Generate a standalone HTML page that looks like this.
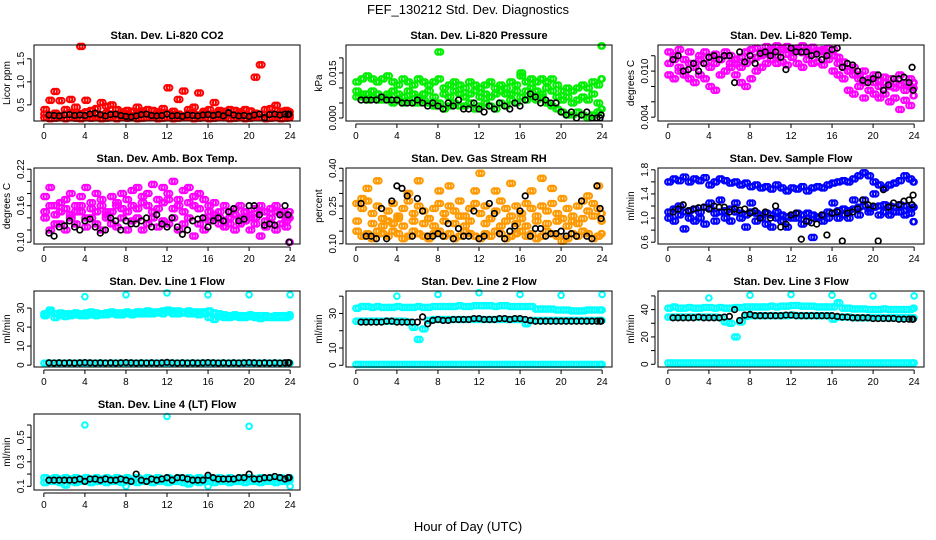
<!DOCTYPE html>
<html><head><meta charset="utf-8">
<style>
html,body{margin:0;padding:0;background:#fff;}
svg{display:block;font-family:"Liberation Sans",Arial,sans-serif;}
</style></head>
<body>
<svg id="chart" width="936" height="540" viewBox="0 0 936 540">
<text x="468" y="14" text-anchor="middle" font-size="13">FEF_130212  Std. Dev. Diagnostics</text>
<text x="468" y="531" text-anchor="middle" font-size="13">Hour of Day (UTC)</text>
</svg>
<script>
const H=[0,0.5,1,1.5,2,2.5,3,3.5,4,4.5,5,5.5,6,6.5,7,7.5,8,8.5,9,9.5,10,10.5,11,11.5,12,12.5,13,13.5,14,14.5,15,15.5,16,16.5,17,17.5,18,18.5,19,19.5,20,20.5,21,21.5,22,22.5,23,23.5,24];
const HQ=[0.25,0.75,1.25,1.75,2.25,2.75,3.25,3.75,4.25,4.75,5.25,5.75,6.25,6.75,7.25,7.75,8.25,8.75,9.25,9.75,10.25,10.75,11.25,11.75,12.25,12.75,13.25,13.75,14.25,14.75,15.25,15.75,16.25,16.75,17.25,17.75,18.25,18.75,19.25,19.75,20.25,20.75,21.25,21.75,22.25,22.75,23.25,23.75,23.9];
const HB=[0.5,1,1.5,2,2.5,3,3.5,4,4.5,5,5.5,6,6.5,7,7.5,8,8.5,9,9.5,10,10.5,11,11.5,12,12.5,13,13.5,14,14.5,15,15.5,16,16.5,17,17.5,18,18.5,19,19.5,20,20.5,21,21.5,22,22.5,23,23.5,23.8,23.9];
const HO=[4,8,12,16,20,24];
const xTicks=[0,4,8,12,16,20,24];

const p1a=[0.3,0.28,0.32,0.27,0.3,0.33,0.29,0.31,0.35,0.28,0.3,0.27,0.32,0.3,0.28,0.29,0.31,0.27,0.3,0.32,0.29,0.28,0.3,0.33,0.31,0.29,0.3,0.27,0.32,0.3,0.28,0.31,0.29,0.3,0.33,0.3,0.28,0.29,0.31,0.3,0.27,0.32,0.3,0.29,0.31,0.28,0.3,0.29,0.28];
const p1b=[0.22,0.2,0.21,0.23,0.2,0.22,0.21,0.2,0.23,0.21,0.22,0.2,0.21,0.22,0.2,0.23,0.21,0.22,0.2,0.21,0.22,0.23,0.2,0.21,0.22,0.2,0.21,0.22,0.23,0.2,0.21,0.22,0.2,0.21,0.23,0.22,0.2,0.21,0.22,0.2,0.21,0.23,0.22,0.2,0.21,0.22,0.2,0.21,0.22];
const p1c=[0.4,0.6,0.79,0.59,0.4,0.62,0.45,1.77,0.6,0.38,0.42,0.55,0.47,0.5,0.4,0.35,0.38,0.36,0.45,0.37,0.4,0.38,0.35,0.42,0.87,0.36,0.62,0.8,0.4,0.45,0.76,0.36,0.4,0.55,0.38,0.36,0.4,0.38,0.35,0.4,0.37,1.1,1.37,0.4,0.42,0.49,0.36,0.38,0.35];
const p1k=[0.28,0.27,0.26,0.28,0.29,0.27,0.28,0.27,0.3,0.32,0.29,0.26,0.29,0.3,0.27,0.25,0.24,0.26,0.29,0.3,0.27,0.26,0.27,0.3,0.26,0.27,0.25,0.28,0.27,0.26,0.28,0.29,0.27,0.29,0.26,0.33,0.28,0.26,0.27,0.25,0.28,0.3,0.22,0.29,0.3,0.28,0.3,0.29,0.3];

const p2a=[0.012,0.013,0.014,0.013,0.012,0.013,0.014,0.012,0.011,0.013,0.012,0.011,0.013,0.012,0.011,0.012,0.013,0.010,0.011,0.012,0.011,0.010,0.012,0.011,0.010,0.011,0.012,0.010,0.011,0.010,0.012,0.011,0.014,0.012,0.013,0.012,0.013,0.012,0.013,0.011,0.009,0.010,0.009,0.010,0.011,0.010,0.012,0.011,0.013];
const p2b=[0.007,0.007,0.006,0.007,0.006,0.006,0.007,0.005,0.006,0.005,0.006,0.005,0.005,0.006,0.005,0.004,0.005,0.003,0.004,0.005,0.004,0.004,0.005,0.003,0.004,0.005,0.004,0.003,0.005,0.004,0.006,0.005,0.007,0.006,0.007,0.006,0.007,0.005,0.004,0.003,0.002,0.001,0.001,0.002,0.001,0.000,0.001,0.002,0.003];
const p2c=[0.009,0.008,0.008,0.009,0.008,0.007,0.008,0.009,0.008,0.007,0.009,0.008,0.007,0.008,0.009,0.007,0.022,0.008,0.007,0.009,0.008,0.007,0.008,0.009,0.007,0.008,0.007,0.008,0.009,0.008,0.008,0.009,0.015,0.009,0.010,0.009,0.008,0.010,0.009,0.007,0.006,0.007,0.005,0.006,0.007,0.006,0.008,0.005,0.024];
const p2k=[0.006,0.006,0.006,0.006,0.007,0.006,0.006,0.006,0.005,0.005,0.005,0.006,0.005,0.004,0.005,0.004,0.003,0.005,0.004,0.006,0.003,0.003,0.005,0.003,0.002,0.004,0.003,0.005,0.004,0.003,0.005,0.004,0.006,0.008,0.007,0.005,0.006,0.005,0.005,0.002,0.001,0.002,0.000,0.001,0.002,0.000,0.000,0.000,0.001];

const p3a=[0.0110,0.0115,0.0105,0.0100,0.0110,0.0105,0.0115,0.0110,0.0105,0.0110,0.0115,0.0120,0.0110,0.0115,0.0105,0.0110,0.0115,0.0118,0.0120,0.0122,0.0125,0.0120,0.0128,0.0122,0.0125,0.0128,0.0124,0.0126,0.0122,0.0125,0.0128,0.0122,0.0120,0.0110,0.0105,0.0100,0.0095,0.0090,0.0085,0.0090,0.0085,0.0080,0.0085,0.0080,0.0078,0.0082,0.0075,0.0080,0.0078];
const p3b=[0.0095,0.0090,0.0100,0.0095,0.0090,0.0085,0.0095,0.0090,0.0080,0.0075,0.0095,0.0100,0.0105,0.0095,0.0085,0.0080,0.0090,0.0100,0.0105,0.0110,0.0115,0.0110,0.0112,0.0108,0.0118,0.0110,0.0105,0.0115,0.0110,0.0112,0.0108,0.0115,0.0100,0.0095,0.0090,0.0075,0.0070,0.0080,0.0065,0.0075,0.0070,0.0065,0.0070,0.0060,0.0065,0.0050,0.0062,0.0055,0.0068];
const p3c=[0.0125,0.0120,0.0128,0.0115,0.0125,0.0110,0.0120,0.0125,0.0118,0.0122,0.0115,0.0125,0.0120,0.0110,0.0118,0.0125,0.0128,0.0130,0.0125,0.0132,0.0128,0.0133,0.0130,0.0132,0.0128,0.0130,0.0133,0.0129,0.0131,0.0127,0.0125,0.0130,0.0128,0.0118,0.0112,0.0100,0.0105,0.0095,0.0100,0.0090,0.0095,0.0088,0.0092,0.0090,0.0085,0.0095,0.0085,0.0090,0.0085];
const p3k=[0.0115,0.0120,0.0100,0.0102,0.0110,0.0100,0.0110,0.0118,0.0120,0.0115,0.0120,0.0120,0.0085,0.0125,0.0112,0.0120,0.0110,0.0123,0.0125,0.0120,0.0125,0.0118,0.0102,0.0130,0.0125,0.0125,0.0125,0.0120,0.0122,0.0115,0.0120,0.0128,0.0130,0.0105,0.0110,0.0108,0.0100,0.0088,0.0085,0.0090,0.0095,0.0075,0.0082,0.0090,0.0090,0.0092,0.0085,0.0105,0.0075];

const p4a=[0.175,0.19,0.16,0.15,0.17,0.18,0.16,0.175,0.19,0.165,0.18,0.17,0.15,0.175,0.16,0.18,0.17,0.185,0.19,0.175,0.18,0.195,0.17,0.19,0.18,0.2,0.17,0.185,0.19,0.175,0.18,0.17,0.16,0.165,0.15,0.16,0.14,0.155,0.16,0.15,0.14,0.155,0.16,0.15,0.155,0.16,0.15,0.14,0.15];
const p4b=[0.14,0.12,0.145,0.13,0.12,0.14,0.13,0.15,0.125,0.14,0.13,0.12,0.14,0.13,0.125,0.14,0.12,0.135,0.14,0.12,0.13,0.14,0.125,0.135,0.13,0.14,0.12,0.13,0.14,0.11,0.13,0.12,0.135,0.14,0.13,0.125,0.13,0.12,0.13,0.135,0.12,0.13,0.11,0.125,0.13,0.12,0.13,0.125,0.10];
const p4c=[0.15,0.16,0.13,0.165,0.155,0.145,0.15,0.16,0.14,0.155,0.15,0.16,0.145,0.15,0.165,0.155,0.15,0.16,0.155,0.165,0.16,0.15,0.155,0.165,0.17,0.155,0.16,0.15,0.165,0.16,0.155,0.14,0.15,0.145,0.14,0.135,0.15,0.145,0.14,0.15,0.145,0.14,0.15,0.135,0.14,0.15,0.145,0.135,0.14];
const p4k=[0.115,0.11,0.125,0.127,0.135,0.125,0.12,0.135,0.138,0.125,0.115,0.12,0.14,0.135,0.12,0.135,0.13,0.13,0.135,0.14,0.125,0.145,0.13,0.125,0.14,0.125,0.113,0.12,0.135,0.138,0.14,0.125,0.135,0.14,0.135,0.15,0.155,0.135,0.138,0.16,0.16,0.145,0.128,0.13,0.128,0.145,0.16,0.145,0.10];

const p5a=[0.15,0.13,0.14,0.12,0.15,0.14,0.13,0.15,0.14,0.12,0.13,0.15,0.14,0.13,0.12,0.14,0.15,0.13,0.14,0.12,0.13,0.15,0.14,0.13,0.12,0.14,0.13,0.15,0.14,0.12,0.13,0.14,0.15,0.13,0.14,0.12,0.13,0.15,0.14,0.13,0.11,0.12,0.14,0.13,0.15,0.14,0.12,0.13,0.14];
const p5b=[0.26,0.24,0.27,0.22,0.25,0.2,0.23,0.26,0.21,0.24,0.27,0.22,0.25,0.23,0.2,0.24,0.26,0.22,0.25,0.23,0.27,0.21,0.24,0.26,0.22,0.25,0.2,0.23,0.27,0.24,0.21,0.25,0.22,0.26,0.24,0.21,0.25,0.23,0.26,0.22,0.2,0.24,0.21,0.25,0.27,0.23,0.26,0.24,0.22];
const p5c=[0.19,0.28,0.32,0.18,0.35,0.17,0.19,0.18,0.2,0.17,0.3,0.19,0.35,0.18,0.2,0.17,0.31,0.19,0.33,0.18,0.21,0.17,0.19,0.31,0.38,0.18,0.2,0.31,0.17,0.19,0.34,0.18,0.2,0.17,0.31,0.19,0.36,0.18,0.32,0.19,0.28,0.17,0.19,0.18,0.2,0.29,0.21,0.33,0.19];
const p5k=[0.26,0.13,0.13,0.12,0.24,0.12,0.27,0.33,0.32,0.29,0.13,0.28,0.23,0.13,0.13,0.14,0.13,0.18,0.12,0.16,0.13,0.13,0.23,0.12,0.13,0.26,0.22,0.14,0.12,0.15,0.17,0.23,0.29,0.13,0.16,0.16,0.13,0.14,0.14,0.15,0.13,0.14,0.13,0.27,0.13,0.12,0.33,0.24,0.2];

const p6a=[1.6,1.65,1.62,1.68,1.6,1.65,1.62,1.67,1.55,1.6,1.65,1.62,1.58,1.6,1.55,1.58,1.52,1.55,1.5,1.52,1.48,1.55,1.5,1.45,1.5,1.48,1.52,1.45,1.5,1.52,1.5,1.55,1.58,1.6,1.62,1.6,1.65,1.7,1.75,1.7,1.6,1.55,1.5,1.55,1.58,1.62,1.7,1.65,1.6];
const p6b=[1.1,1.15,1.2,1.1,1.12,1.15,1.1,1.18,1.15,1.08,1.1,1.12,1.15,1.1,1.08,1.05,1.1,1.08,1.05,1.08,1.05,1.1,1.05,1.02,1.05,1.08,1.05,1.08,1.05,1.02,1.05,1.1,1.08,1.12,1.15,1.12,1.15,1.18,1.2,1.15,1.18,1.2,1.22,1.2,1.18,1.22,1.2,1.15,1.18];
const p6c=[1.0,0.95,1.05,0.82,1.0,0.95,1.0,0.9,1.25,0.95,1.3,1.0,0.95,1.25,1.0,0.85,1.25,0.95,1.0,0.9,0.85,1.0,0.95,0.85,1.0,1.0,0.9,0.95,0.68,1.0,0.95,1.0,1.25,1.0,1.05,1.0,1.3,1.05,1.3,1.1,1.4,1.05,1.1,1.05,1.1,1.1,1.05,1.08,0.94];
const p6k=[1.1,1.15,1.22,1.12,1.15,1.17,1.18,1.15,1.2,1.18,1.18,1.1,1.15,1.13,1.15,1.08,1.12,1.0,1.1,1.0,1.2,0.85,0.9,1.05,1.08,0.65,0.95,0.92,0.9,1.05,0.72,1.08,1.1,0.62,1.08,1.1,1.15,1.3,1.22,1.2,0.62,1.47,1.18,1.25,1.22,1.28,1.3,1.22,1.38];

const p7a=[27,28,27,27.5,27,27,27.5,27,27.5,28,27.5,27,27.5,28,27.5,27.5,28,27.5,28,28,28.5,28,28,28.5,29,28.5,28.5,28,28.5,28,28,28,28.5,27.5,27,26.5,26,26.5,26,26,26.5,26,26,26,25.5,26,26,26,26.5];
const p7b=[26,29,25,26,25.5,26,26.5,26,26,26.5,26,26.5,26.5,27,26.5,26.5,27,26.5,27,27,27,27,27.5,27,28,27,27,27.5,27,27,26.5,27,25,24,25.5,25,25,25.5,25,25,25.5,25,24.5,25,25,25,25,25,25.5];
const p7low=[1,1,1,1,1,1,1,1,1,1,1,1,1,1,1,1,1,1,1,1,1,1,1,1,1,1,1,1,1,1,1,1,1,1,1,1,1,1,1,1,1,1,1,1,1,1,1,1,1];
const p7out=[36,37,38,37,37,37];
const p7k=[1.2,1.1,1.2,1.1,1.2,1.1,1.2,1.3,1.2,1.1,1.2,1.1,1.2,1.1,1.2,1.3,1.2,1.1,1.2,1.1,1.2,1.1,1.2,1.4,1.2,1.1,1.2,1.1,1.2,1.1,1.2,1.3,1.2,1.1,1.2,1.1,1.2,1.1,1.2,1.3,1.2,1.1,1.2,1.1,1.2,1.1,1.2,1.3,1.2];

const p8a=[33,34,34,33.5,34,33.5,33.5,33.5,34,33.5,33.5,33.5,34,33.5,33.5,34,34,34,34,34,34.5,34,34,34.5,34.5,34.5,34.5,34,34.5,34.5,34,34,34,34,34,32.5,32.5,32.5,32.5,32,32,32,31.5,31.5,31.5,32,32,32,32];
const p8b=[25.5,25.5,25.5,25.5,25.5,25.5,25.5,25.5,25.5,25.5,25,22,15,21,26,26.5,26.5,26.5,26.5,26.5,26.5,26.5,26.5,26.5,26.5,26.5,26.5,26.5,26.5,26.5,26.5,26.5,26.5,24,26,26,26,26,26,26,26,26,26,26,26,26,26,26,26];
const p8low=[0.5,0.5,0.5,0.5,0.5,0.5,0.5,0.5,0.5,0.5,0.5,0.5,0.5,0.5,0.5,0.5,0.5,0.5,0.5,0.5,0.5,0.5,0.5,0.5,0.5,0.5,0.5,0.5,0.5,0.5,0.5,0.5,0.5,0.5,0.5,0.5,0.5,0.5,0.5,0.5,0.5,0.5,0.5,0.5,0.5,0.5,0.5,0.5,0.5];
const p8out=[40,41,42,41,40.5,41];
const p8k=[25,25,25,25,25,25.5,25.5,25,25,25,25,25,28,24,26,26.5,26,26,26.5,26.5,26.5,26.5,27,27,26.5,26.5,26.5,27,27,26.5,27,27,26.5,26,25.5,25.5,25.5,25.5,25.5,25.5,25.5,25.5,25.5,25.5,25.5,25.5,25.5,25.5,25.5];

const p9a=[41,42,41,41,41.5,41,41,41.5,41.5,41,41.5,41,41,41.5,41.5,42,42,42,42,42,42.5,42,42.5,42.5,43,43,42.5,42.5,42.5,42,42,42,42,45,41,41,40.5,40.5,40.5,40,40,40,40.5,40,40,40,40,40,41];
const p9b=[34.5,34.5,34.5,34.5,34.5,34.5,34.5,34.5,34.5,34.5,34,31,30,20,31,35,35.5,35.5,35.5,35.5,35.5,35.5,35.5,35.5,36,35.5,35.5,35.5,35.5,35.5,35.5,35.5,33,34.5,34.5,34.5,34,34,34,34,34,34,34,34,34,34,34,34,34];
const p9low=[1,1,1,1,1,1,1,1,1,1,1,1,1,1,1,1,1,1,1,1,1,1,1,1,1,1,1,1,1,1,1,1,1,1,1,1,1,1,1,1,1,1,1,1,1,1,1,1,1];
const p9out=[48.5,50.5,51,50.5,50,50];
const p9k=[34,34,34,34,34,34.5,34,34,34,34,34.5,35,40,32,36,36.5,35.5,35.5,35.5,35.5,35.5,35.5,36,36,35.5,35.5,35.5,35.5,35.5,35.5,35.5,35.5,35,34.5,34.5,34,34,34,34,33.5,33.5,33.5,33.5,33.5,33,33,33,33,33];

const p10a=[0.17,0.16,0.17,0.16,0.17,0.16,0.17,0.16,0.17,0.16,0.17,0.16,0.17,0.16,0.17,0.16,0.17,0.16,0.17,0.16,0.17,0.16,0.17,0.16,0.17,0.16,0.17,0.16,0.17,0.16,0.17,0.16,0.17,0.16,0.17,0.16,0.17,0.16,0.17,0.16,0.17,0.16,0.17,0.16,0.17,0.16,0.17,0.16,0.17];
const p10b=[0.13,0.14,0.14,0.13,0.11,0.14,0.13,0.14,0.14,0.13,0.14,0.14,0.13,0.14,0.14,0.13,0.14,0.14,0.13,0.14,0.14,0.13,0.14,0.14,0.13,0.14,0.14,0.13,0.12,0.14,0.13,0.14,0.14,0.13,0.14,0.14,0.13,0.14,0.14,0.13,0.14,0.14,0.13,0.14,0.14,0.13,0.14,0.14,0.15];
const p10out=[0.6,0.1,0.67,0.1,0.59,0.1];
const p10k=[0.15,0.15,0.15,0.15,0.15,0.15,0.16,0.14,0.16,0.16,0.15,0.16,0.15,0.15,0.16,0.15,0.14,0.2,0.15,0.14,0.16,0.15,0.16,0.17,0.15,0.17,0.17,0.16,0.15,0.15,0.15,0.19,0.17,0.16,0.16,0.16,0.16,0.17,0.17,0.2,0.16,0.16,0.17,0.17,0.18,0.17,0.16,0.17,0.17];

const NS='http://www.w3.org/2000/svg';
const svg=document.getElementById('chart');
const colL=[34,346,658], rowT=[45,168,291,414], BW=266, BH=76;
function mk(tag,attrs,parent){const e=document.createElementNS(NS,tag);for(const k in attrs)e.setAttribute(k,attrs[k]);(parent||svg).appendChild(e);return e;}

const panels=[
 {t:'Stan. Dev. Li-820 CO2',yl:'Licor ppm',d:[0.15,1.8],ticks:[0.5,1,1.5],labs:['0.5','1.0','1.5'],s:[[H,p1b,'#ff0000'],[H,p1a,'#ff0000'],[H,p1c,'#ff0000'],[HB,p1k,'#000000']]},
 {t:'Stan. Dev. Li-820 Pressure',yl:'kPa',d:[-0.001,0.0243],ticks:[0,0.005,0.01,0.015,0.02],labs:['0.000','','','0.015',''],s:[[H,p2a,'#00ee00'],[H,p2b,'#00ee00'],[H,p2c,'#00ee00'],[HB,p2k,'#000000']]},
 {t:'Stan. Dev. Li-820 Temp.',yl:'degrees C',d:[0.0035,0.0134],ticks:[0.004,0.006,0.008,0.010,0.012],labs:['0.004','','','0.010',''],s:[[H,p3a,'#ff00ff'],[H,p3b,'#ff00ff'],[H,p3c,'#ff00ff'],[HB,p3k,'#000000']]},
 {t:'Stan. Dev. Amb. Box Temp.',yl:'degrees C',d:[0.097,0.222],ticks:[0.10,0.12,0.14,0.16,0.18,0.20,0.22],labs:['0.10','','','0.16','','','0.22'],s:[[H,p4a,'#ff00ff'],[H,p4b,'#ff00ff'],[H,p4c,'#ff00ff'],[HB,p4k,'#000000']]},
 {t:'Stan. Dev. Gas Stream RH',yl:'percent',d:[0.099,0.401],ticks:[0.10,0.15,0.20,0.25,0.30,0.35,0.40],labs:['0.10','','','0.25','','','0.40'],s:[[H,p5a,'#ff9900'],[H,p5b,'#ff9900'],[H,p5c,'#ff9900'],[HB,p5k,'#000000']]},
 {t:'Stan. Dev. Sample Flow',yl:'ml/min',d:[0.57,1.83],ticks:[0.6,0.8,1.0,1.2,1.4,1.6,1.8],labs:['0.6','','1.0','','1.4','','1.8'],s:[[H,p6a,'#0000ff'],[H,p6b,'#0000ff'],[H,p6c,'#0000ff'],[HB,p6k,'#000000']]},
 {t:'Stan. Dev. Line 1 Flow',yl:'ml/min',d:[-1,39],ticks:[0,10,20,30],labs:['0','10','20','30'],s:[[H,p7a,'#00ffff'],[H,p7b,'#00ffff'],[H,p7low,'#00ffff'],[HO,p7out,'#00ffff'],[HB,p7k,'#000000']]},
 {t:'Stan. Dev. Line 2 Flow',yl:'ml/min',d:[-1,43],ticks:[0,10,20,30,40],labs:['0','10','','30',''],s:[[H,p8a,'#00ffff'],[H,p8b,'#00ffff'],[H,p8low,'#00ffff'],[HO,p8out,'#00ffff'],[HB,p8k,'#000000']]},
 {t:'Stan. Dev. Line 3 Flow',yl:'ml/min',d:[-2,53.6],ticks:[0,10,20,30,40,50],labs:['0','','20','','40',''],s:[[H,p9a,'#00ffff'],[H,p9b,'#00ffff'],[H,p9low,'#00ffff'],[HO,p9out,'#00ffff'],[HB,p9k,'#000000']]},
 {t:'Stan. Dev. Line 4 (LT) Flow',yl:'ml/min',d:[0.07,0.69],ticks:[0.1,0.2,0.3,0.4,0.5,0.6],labs:['0.1','','0.3','','0.5',''],s:[[H,p10a,'#00ffff'],[H,p10b,'#00ffff'],[HO,p10out,'#00ffff'],[HB,p10k,'#000000']]}
];

panels.forEach((p,i)=>{
  const L=colL[i%3], T=rowT[Math.floor(i/3)];
  const g=mk('g',{});
  
  
  const xs=v=>L+(v+0.96)/25.92*BW;
  const ys=v=>T+BH-(v-p.d[0])/(p.d[1]-p.d[0])*BH;
  const title=mk('text',{x:L+BW/2,y:T-6,'text-anchor':'middle','font-size':'11','font-weight':'bold'},g);
  title.textContent=p.t;
  
  
  const pts=mk('g',{},g);
  
  
  const plot=(hx,vals,col,sw)=>{
    vals.forEach((v,j)=>{
      if(j>=hx.length) return;
      const y=ys(v);
      if(y<T-2||y>T+BH+2) return;
      const c=mk('circle',{cx:xs(hx[j]).toFixed(1),cy:y.toFixed(1),r:'2.8',fill:'none',stroke:col,'stroke-width':sw},pts);
      
      
    });
  };
  p.s.forEach(([hx,vals,col])=>{
    if(col==='#000000') return;
    plot(hx,vals,col,'2');
    if(hx===H) plot(HQ,vals,col,'2');
  });
  p.s.forEach(([hx,vals,col])=>{ if(col==='#000000') plot(hx,vals,col,'1.7'); });
  const box=mk('rect',{x:L,y:T,width:BW,height:BH,fill:'none',stroke:'#000','stroke-width':'1'},g);
  
  
  const xa=mk('g',{},g);
  
  
  mk('line',{x1:xs(0),x2:xs(24),y1:T+BH+3,y2:T+BH+3,stroke:'#000'},xa);
  xTicks.forEach(t=>{
    mk('line',{x1:xs(t),x2:xs(t),y1:T+BH+3,y2:T+BH+7,stroke:'#000'},xa);
    const tx=mk('text',{x:xs(t),y:T+BH+18,'text-anchor':'middle','font-size':'10'},xa);
    tx.textContent=t;
  });
  const ya=mk('g',{},g);
  
  
  const tk=p.ticks;
  mk('line',{x1:L-3,x2:L-3,y1:ys(tk[0]),y2:ys(tk[tk.length-1]),stroke:'#000'},ya);
  tk.forEach((t,k)=>{
    const y=ys(t);
    mk('line',{x1:L-3,x2:L-7,y1:y,y2:y,stroke:'#000'},ya);
    if(p.labs[k]){
      const tx=mk('text',{x:L-10,y:y,'text-anchor':'middle','font-size':'10',transform:`rotate(-90 ${L-10} ${y})`},ya);
      tx.textContent=p.labs[k];
    }
  });
  const yl=mk('text',{x:L-24,y:T+BH/2,'text-anchor':'middle','font-size':'10',transform:`rotate(-90 ${L-24} ${T+BH/2})`},g);
  yl.textContent=p.yl;
  
  
});
</script>
</body></html>
